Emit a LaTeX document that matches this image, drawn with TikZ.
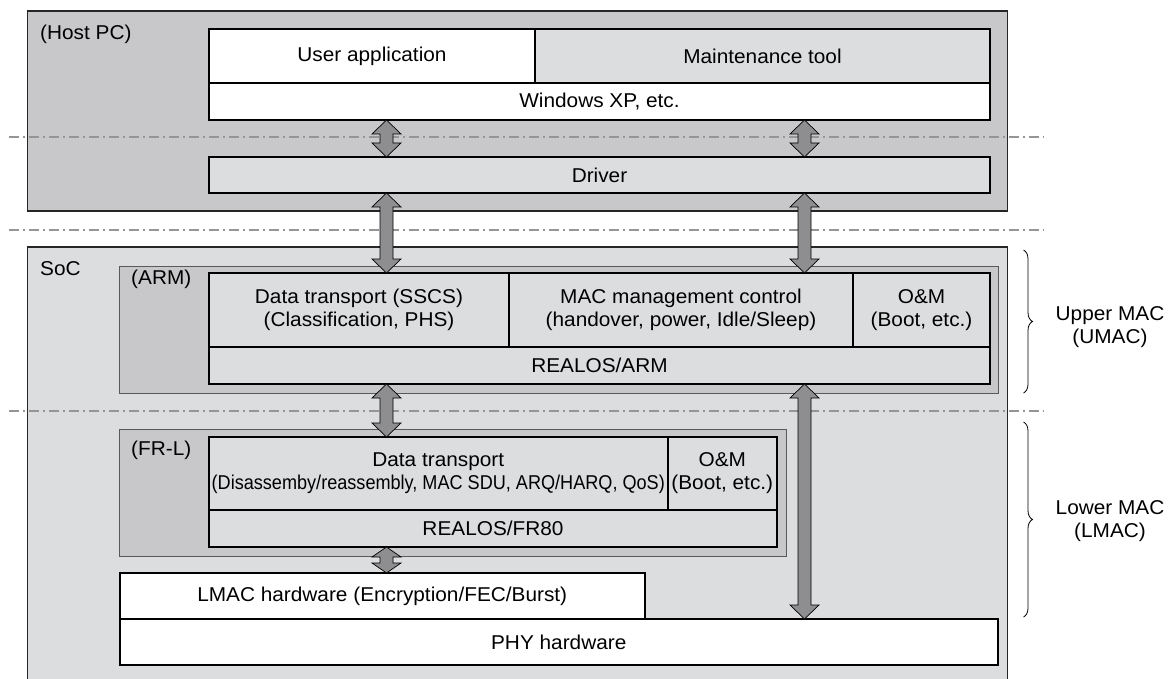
\documentclass[tikz,border=0pt]{standalone}
\usepackage{fontspec}
\setmainfont{Liberation Sans}[FakeStretch=1.04]
\usetikzlibrary{calc,decorations.pathreplacing}
\definecolor{midgray}{HTML}{C8C8CA}
\definecolor{litegray}{HTML}{DCDDDF}
\definecolor{arrgray}{HTML}{8E8E90}
\definecolor{linegray}{HTML}{959595}
\newcommand\blockarrow[3][14]{%
  \draw[blockarr] let \p1=#2, \p2=#3 in
    (\x1,\y1) -- ++(14.5pt,-#1pt) -- ++(-8pt,0pt) -- (\x1+6.5pt,\y2+#1pt)
    -- ++(8pt,0pt) -- (\x1,\y2) -- (\x1-14.5pt,\y2+#1pt) -- ++(8pt,0pt)
    -- (\x1-6.5pt,\y1-#1pt) -- ++(-8pt,0pt) -- cycle;}
\begin{document}
\begin{tikzpicture}[x=1pt,y=-1pt,
  txt/.style={font=\fontsize{20}{23}\selectfont, align=center, inner sep=0pt},
  outerbox/.style={draw=black!85, line width=1.2pt, fill=#1},
  groupbox/.style={draw=black!65, line width=0.9pt, fill=midgray},
  layer/.style={draw=black, line width=2pt, fill=#1, txt},
  blockarr/.style={draw=black, line width=0.7pt, fill=arrgray},
  sepline/.style={draw=linegray, line width=2pt, dash pattern=on 10pt off 4pt on 2pt off 4pt},
  bracestyle/.style={draw=black, line width=0.8pt, decorate, decoration={brace, amplitude=9pt}}
]
\useasboundingbox (0,0) rectangle (1172,679);
% helper to place boxes by corners
\def\boxat#1#2#3#4#5#6#7{% name, style, x1,y1,x2,y2, text
  \node[#2, anchor=north west, minimum width={(#5-#3)*1pt}, minimum height={(#6-#4)*1pt}, outer sep=0pt] (#1) at (#3,#4) {#7};}
% Host PC
\boxat{host}{outerbox=midgray}{27.5}{11}{1007.5}{211}{}
\node[txt, anchor=north west] (hostlbl) at (40,25) {(Host PC)};
\boxat{user}{layer=white}{209}{29}{535}{83}{User application}
\boxat{maint}{layer=litegray}{535}{29}{990}{83}{Maintenance tool}
\boxat{winxp}{layer=white}{209}{83}{990}{120}{Windows XP, etc.}
\boxat{driver}{layer=litegray}{209}{157}{990}{193}{Driver}
% SoC
\boxat{soc}{outerbox=litegray}{27.5}{247}{1007.5}{700}{}
\node[txt, anchor=north west] (soclbl) at (40,261) {SoC};
\boxat{arm}{groupbox}{119.5}{266}{998}{393}{}
\node[txt, anchor=north west] (armlbl) at (131,270) {(ARM)};
\boxat{sscs}{layer=litegray}{209}{273}{509}{347}{Data transport (SSCS)\\(Classification, PHS)}
\boxat{macm}{layer=litegray}{509}{273}{853}{347}{MAC management control\\(handover, power, Idle/Sleep)}
\boxat{omarm}{layer=litegray}{853}{273}{990}{347}{O\&M\\(Boot, etc.)}
\boxat{realosarm}{layer=litegray}{209}{347}{990}{384}{REALOS/ARM}
\boxat{frl}{groupbox}{119.5}{429}{786}{556}{}
\node[txt, anchor=north west] (frllbl) at (131,441) {(FR-L)};
\boxat{dtfr}{layer=litegray}{209}{437}{667.5}{510}{Data transport\\\scalebox{0.87}[1]{(Disassemby/reassembly, MAC SDU, ARQ/HARQ, QoS)}}
\boxat{omfr}{layer=litegray}{667.5}{437}{777}{510}{O\&M\\(Boot, etc.)}
\boxat{realosfr}{layer=litegray}{209}{510}{777}{547}{REALOS/FR80}
\boxat{lmac}{layer=white}{119.5}{573}{645}{619}{LMAC hardware (Encryption/FEC/Burst)}
\boxat{phy}{layer=white}{119.5}{619}{998}{665}{PHY hardware}
% separator lines
\coordinate (s1a) at (9,137); \coordinate (s1b) at (1044,137);
\coordinate (s2a) at (9,230); \coordinate (s2b) at (1044,230);
\coordinate (s3a) at (9,411); \coordinate (s3b) at (1044,411);
\draw[sepline] (s1a) -- (s1b);
\draw[sepline] (s2a) -- (s2b);
\draw[sepline] (s3a) -- (s3b);
% arrows
\coordinate (axl) at (386.5,0);
\coordinate (axr) at (804.5,0);
\blockarrow{(winxp.south -| axl)}{(driver.north -| axl)}
\blockarrow{(winxp.south -| axr)}{(driver.north -| axr)}
\blockarrow{(driver.south -| axl)}{(sscs.north -| axl)}
\blockarrow{(driver.south -| axr)}{(macm.north -| axr)}
\blockarrow{(realosarm.south -| axl)}{(dtfr.north -| axl)}
\blockarrow{(realosarm.south -| axr)}{(phy.north -| axr)}
\blockarrow[10]{(realosfr.south -| axl)}{(lmac.north -| axl)}
% braces
\coordinate (b1a) at (1023.5,250); \coordinate (b1b) at (1023.5,393);
\coordinate (b2a) at (1023.5,422); \coordinate (b2b) at (1023.5,617);
\draw[bracestyle] (b1a) -- (b1b);
\draw[bracestyle] (b2a) -- (b2b);
\node[txt] (umac) at (1110,327) {Upper MAC\\(UMAC)};
\node[txt] (lmaclbl) at (1110,521) {Lower MAC\\(LMAC)};
\end{tikzpicture}
\end{document}
